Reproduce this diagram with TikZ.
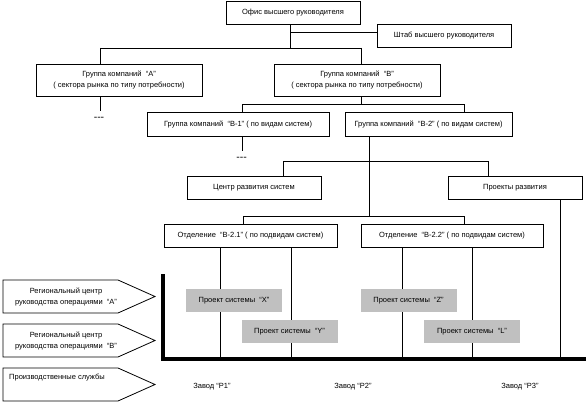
\documentclass[tikz,border=0pt]{standalone}
\usepackage{fontspec}
\setmainfont{Liberation Sans}
\begin{document}
\begin{tikzpicture}[x=1pt,y=-1pt,
  txt/.style={font=\fontsize{7.5}{11}\selectfont, inner sep=0pt, align=center},
  dashtxt/.style={font=\fontsize{10.5}{11}\selectfont, inner sep=0pt},
  box/.style={draw, line width=0.8pt, txt, fill=white},
  gbox/.style={fill=graybox, txt, minimum width=96pt, minimum height=23pt},
  ln/.style={line width=0.8pt},
  thick line/.style={line width=4pt},
]
\definecolor{graybox}{HTML}{C0C0C0}
\useasboundingbox (0,0) rectangle (586,404);

% boxes
\node[box, minimum width=134pt, minimum height=23pt] (office) at (293,12.5) {Офис высшего руководителя};
\node[box, minimum width=134pt, minimum height=23pt] (shtab) at (444,35.5) {Штаб высшего руководителя};
\node[box, minimum width=166pt, minimum height=32pt] (grpA) at (119,80) {Группа компаний \ “А”\\( сектора рынка по типу потребности)};
\node[box, minimum width=166pt, minimum height=32pt] (grpB) at (357,80) {Группа компаний \ “В”\\( сектора рынка по типу потребности)};
\node[box, minimum width=182pt, minimum height=24pt] (b1) at (238,124.5) {Группа компаний \ “В-1” ( по видам систем)};
\node[box, minimum width=167pt, minimum height=24pt] (b2) at (428.5,124.5) {Группа компаний \ “В-2” ( по видам систем)};
\node[box, minimum width=134pt, minimum height=23pt] (center) at (254,187.5) {Центр развития систем};
\node[box, minimum width=134pt, minimum height=23pt] (proj) at (515,187.5) {Проекты развития};
\node[box, minimum width=173pt, minimum height=23pt] (d1) at (250.5,235.5) {Отделение \ “В-2.1” ( по подвидам систем)};
\node[box, minimum width=182pt, minimum height=23pt] (d2) at (452,235.5) {Отделение \ “В-2.2” ( по подвидам систем)};

% junction coordinates
\coordinate (j0) at (290,32);
\coordinate (j1) at (290,48);
\coordinate (jA) at (100,48);
\coordinate (jB) at (361,48);
\coordinate (k0) at (361,104);
\coordinate (k1) at (242,104);
\coordinate (k2) at (464,104);
\coordinate (m0) at (369,161);
\coordinate (m1) at (283,161);
\coordinate (m2) at (488,161);
\coordinate (n0) at (369,216);
\coordinate (n1) at (243,216);
\coordinate (n2) at (464,216);
\coordinate (aEnd) at (100,111);
\coordinate (b1End) at (242,151);
\coordinate (base) at (163,359);
\coordinate (lTop) at (163,274);
\coordinate (lEnd) at (586,359);

\draw[ln] (office.south -| j0) -- (j1);
\draw[ln] (j0) -- (shtab.west |- j0);
\draw[ln] (jA) -- (jB);
\draw[ln] (jA) -- (grpA.north -| jA);
\draw[ln] (jB) -- (grpB.north -| jB);
\draw[ln] (grpA.south -| aEnd) -- (aEnd);
\node[dashtxt] (dashA) at (99,119) {-{}-{}-};
\draw[ln] (grpB.south -| k0) -- (k0);
\draw[ln] (k1) -- (k2);
\draw[ln] (k1) -- (b1.north -| k1);
\draw[ln] (k2) -- (b2.north -| k2);
\draw[ln] (b1.south -| b1End) -- (b1End);
\node[dashtxt] (dashB) at (241.5,159) {-{}-{}-};
\draw[ln] (b2.south -| m0) -- (n0);
\draw[ln] (m1) -- (m2);
\draw[ln] (m1) -- (center.north -| m1);
\draw[ln] (m2) -- (proj.north -| m2);
\draw[ln] (n1) -- (n2);
\draw[ln] (n1) -- (d1.north -| n1);
\draw[ln] (n2) -- (d2.north -| n2);
\foreach \x in {220,291} \draw[ln] (d1.south -| \x,0) -- (\x,359);
\foreach \x in {402,472} \draw[ln] (d2.south -| \x,0) -- (\x,359);
\draw[ln] (proj.south -| 560,0) -- (560,359);

\draw[thick line] (lTop) -- (base) -- (lEnd);

% gray project boxes
\node[gbox] (px) at (234,300.5) {Проект системы \ “X”};
\node[gbox] (py) at (289.5,331.5) {Проект системы \ “Y”};
\node[gbox] (pz) at (408.5,300.5) {Проект системы \ “Z”};
\node[gbox] (pl) at (472,331.5) {Проект системы \ “L”};

% left pentagons
\draw[ln] (3,280) -- (118,280) -- (155,296.5) -- (118,313) -- (3,313) -- cycle;
\draw[ln] (3,324) -- (118,324) -- (155,340.5) -- (118,357) -- (3,357) -- cycle;
\draw[ln] (3,368) -- (118,368) -- (155,384.5) -- (118,401) -- (3,401) -- cycle;
\node[txt] (r1) at (66,297) {Региональный центр\\руководства операциями \ “А”};
\node[txt] (r2) at (66,341) {Региональный центр\\руководства операциями \ “В”};
\node[txt, anchor=west] (ps) at (9,378) {Производственные службы};

% plants
\node[txt] (p1) at (212,387) {Завод “Р1”};
\node[txt] (p2) at (353,387) {Завод “Р2”};
\node[txt] (p3) at (520,387) {Завод “Р3”};
\end{tikzpicture}
\end{document}
